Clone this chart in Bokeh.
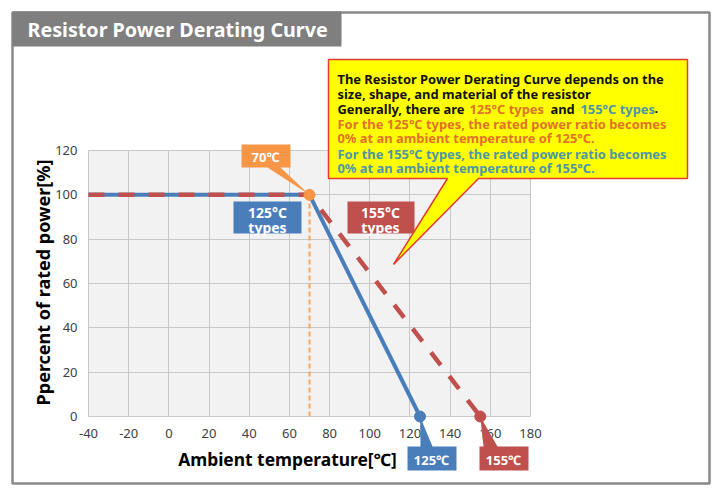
import math
from bokeh.plotting import figure
from bokeh.models import Range1d, FixedTicker, Label, PolyAnnotation, BoxAnnotation
from bokeh.embed import file_html
from bokeh.resources import INLINE

# ---- data -------------------------------------------------------------
temps_125 = [-40, 70, 125]
power_125 = [100, 100, 0]
temps_155 = [-40, 70, 155]
power_155 = [100, 100, 0]
knee_temp = 70
knee_power = 100
x_ticks = [-40, -20, 0, 20, 40, 60, 80, 100, 120, 140, 160, 180]
y_ticks = [0, 20, 40, 60, 80, 100, 120]

# ---- page geometry (pixels) --------------------------------------------
W, H = 717, 495
FRAME_L, FRAME_R = 88, 530          # x = -40 .. 180
FRAME_TOP, ZERO_Y = 150, 416        # y = 120 .. 0
PPU_X = (FRAME_R - FRAME_L) / (x_ticks[-1] - x_ticks[0])
PPU_Y = (ZERO_Y - FRAME_TOP) / y_ticks[-1]


def dx(px):
    return x_ticks[0] + (px - FRAME_L) / PPU_X


def dy(py):
    return (ZERO_Y - py) / PPU_Y


BLUE = "#4a7ebb"
RED = "#c0504d"
ORANGE = "#f79646"
FONT = "Noto Sans"

# the plotting frame spans the whole page; axes sit at fixed data locations
p = figure(width=W, height=H,
           x_range=Range1d(dx(0), dx(W)),
           y_range=Range1d(dy(H), dy(0)),
           output_backend="svg", toolbar_location=None, min_border=0)
p.background_fill_color = "white"
p.border_fill_color = "white"
p.outline_line_color = None

# grey plotting area
p.add_layout(BoxAnnotation(left=x_ticks[0], right=x_ticks[-1], bottom=y_ticks[0], top=y_ticks[-1],
                           fill_color="#f2f2f2", fill_alpha=1.0,
                           line_color="#c8c8c8", line_width=1, level="image"))

# axes
for ax in (p.xaxis[0], p.yaxis[0]):
    ax.axis_line_color = None
    ax.major_tick_line_color = None
    ax.minor_tick_line_color = None
    ax.major_tick_out = 0
    ax.major_tick_in = 0
    ax.major_label_text_font = FONT
    ax.major_label_text_font_size = "13px"
    ax.major_label_text_color = "#404040"

p.xaxis.fixed_location = y_ticks[0]
p.yaxis.fixed_location = x_ticks[0]
p.xaxis.ticker = FixedTicker(ticks=x_ticks)
p.yaxis.ticker = FixedTicker(ticks=y_ticks)
p.xaxis.major_label_overrides = {t: str(t) for t in x_ticks if t < 0}
p.xaxis.major_label_standoff = 12
p.yaxis.major_label_standoff = 11

p.xgrid.ticker = FixedTicker(ticks=x_ticks)
p.ygrid.ticker = FixedTicker(ticks=y_ticks)
p.xgrid.cross_bounds = (y_ticks[0], y_ticks[-1])
p.ygrid.cross_bounds = (x_ticks[0], x_ticks[-1])
for g in (p.xgrid[0], p.ygrid[0]):
    g.grid_line_color = "#c8c8c8"
    g.grid_line_width = 1

# curves
p.line([knee_temp, knee_temp], [0, knee_power], line_color="#f5a560",
       line_width=2, line_dash="5 3")
p.line(temps_125, power_125, line_color=BLUE, line_width=4)
p.line(temps_155, power_155, line_color=RED, line_width=4.5, line_dash="16 14")
p.scatter([knee_temp], [knee_power], size=11, fill_color=ORANGE, line_color=ORANGE)
p.scatter([temps_125[-1]], [power_125[-1]], size=11, fill_color=BLUE, line_color=BLUE)
p.scatter([temps_155[-1]], [power_155[-1]], size=11, fill_color=RED, line_color=RED)


def poly(points, fill, line=None, lw=1.0, tip=None):
    xs, ys = [], []
    for pt in points:
        if pt == "tip":
            xs.append(tip[0])
            ys.append(tip[1])
        else:
            xs.append(dx(pt[0]))
            ys.append(dy(pt[1]))
    p.add_layout(PolyAnnotation(xs=xs, ys=ys, fill_color=fill, fill_alpha=1.0 if fill else 0,
                                line_color=line, line_width=lw, line_alpha=1.0 if line else 0))


def text(px, py, s, color="white", size="13px", align="center", bold=True, angle=0.0):
    p.add_layout(Label(x=dx(px), y=dy(py), text=s, text_color=color, text_font=FONT,
                       text_font_size=size, text_font_style="bold" if bold else "normal",
                       text_align=align, text_baseline="middle", angle=angle))


# outer frame and title tab
poly([(12, 12), (709, 12), (709, 483), (12, 483)], None, "#8a8a8a", 2.5)
poly([(12, 11), (341, 11), (341, 46), (12, 46)], "#7f7f7f")
text(27, 29, "Resistor Power Derating Curve", size="19.7px", align="left")

# axis titles
text(287, 458, "Ambient temperature[℃]", color="black", size="17.4px")
text(42, 282, "Ppercent of rated power[%]", color="black", size="18px", angle=math.pi / 2)

# knee callout
poly([(241, 144), (290, 144), (290, 167), (280, 167), "tip", (267, 167), (241, 167)],
     ORANGE, tip=(knee_temp, knee_power))
text(265, 156, "70℃")

# type boxes
poly([(233, 201), (301, 201), (301, 233), (233, 233)], BLUE)
text(267, 212, "125°C", size="14px")
text(267, 227, "types", size="14px")
poly([(347, 201), (414, 201), (414, 233), (347, 233)], RED)
text(380, 212, "155°C", size="14px")
text(380, 227, "types", size="14px")

# end-point callouts
poly([(407, 446), (420, 446), "tip", (432, 446), (456, 446), (456, 470), (407, 470)],
     BLUE, tip=(temps_125[-1], power_125[-1]))
text(431, 459, "125℃")
poly([(479, 446), (483, 446), "tip", (497, 446), (528, 446), (528, 470), (479, 470)],
     RED, tip=(temps_155[-1], power_155[-1]))
text(503, 459, "155℃")

# explanation balloon
poly([(328, 59), (687, 59), (687, 178), (478, 178), (393, 264), (447, 178), (328, 178)],
     "#ffff00", "#e53a2f", 1.5)
BLACK = "#111111"
TXT_OR = "#e2722a"
TXT_TE = "#4f95a9"
FS = "12.9px"
text(337, 78, "The Resistor Power Derating Curve depends on the", BLACK, FS, "left")
text(337, 93, "size, shape, and material of the resistor", BLACK, FS, "left")
text(337, 108, "Generally, there are", BLACK, FS, "left")
text(469, 108, "125°C types", TXT_OR, FS, "left")
text(550, 108, "and", BLACK, FS, "left")
text(580, 108, "155°C types", TXT_TE, FS, "left")
text(654, 108, ".", BLACK, FS, "left")
text(337, 123, "For the 125°C types, the rated power ratio becomes", TXT_OR, FS, "left")
text(337, 137, "0% at an ambient temperature of 125°C.", TXT_OR, FS, "left")
text(337, 153, "For the 155°C types, the rated power ratio becomes", TXT_TE, FS, "left")
text(337, 167, "0% at an ambient temperature of 155°C.", TXT_TE, FS, "left")

open("out.html", "w").write(file_html(p, INLINE))
